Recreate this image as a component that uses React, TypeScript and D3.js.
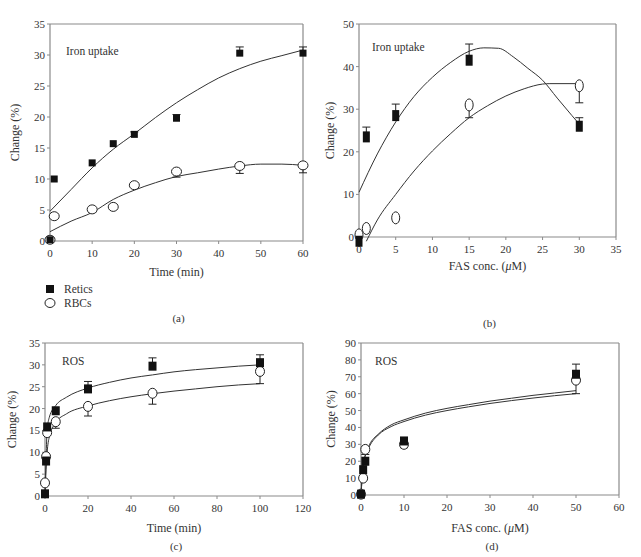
import React from "react";
import * as d3 from "d3";

// ---------- Data ----------
// Panel (a): Iron uptake vs time
const aReticsX = [0, 1, 10, 15, 20, 30, 45, 60];
const aReticsY = [0.2, 10, 12.6, 15.7, 17.2, 19.8, 30.3, 30.3];
const aReticsErr = [null, null, null, null, 17.6, 20.4, 31.3, 31.3];
const aRbcX = [0, 1, 10, 15, 20, 30, 45, 60];
const aRbcY = [0.2, 4, 5.1, 5.5, 9, 11.2, 12.1, 12.2];
const aRbcErr = [null, null, 4.6, null, null, 10.3, 10.9, 11];
const aReticsFitX = [0, 5, 10, 15, 20, 25, 30, 35, 40, 45, 50, 55, 60];
const aReticsFitY = [4.8, 8.3, 11.8, 14.8, 17.3, 19.9, 22.3, 24.4, 26.3, 27.8, 29.0, 29.9, 30.8];
const aRbcFitX = [0, 5, 10, 15, 20, 25, 30, 35, 40, 45, 50, 55, 60];
const aRbcFitY = [1.5, 3.2, 4.6, 6.7, 8.2, 9.4, 10.4, 11.0, 11.6, 12.1, 12.4, 12.4, 12.2];

// Panel (b): Iron uptake vs FAS conc.
const bReticsX = [0, 1, 5, 15, 30];
const bReticsY = [-1, 23.5, 28.5, 41.5, 26];
const bReticsErr = [null, 25.8, 31.2, 45.3, 28];
const bRbcX = [0, 1, 5, 15, 30];
const bRbcY = [0.5, 2, 4.5, 31, 35.5];
const bRbcErr = [null, null, null, 28, 31.5];
const bReticsFitX = [0, 2.5, 5, 7.5, 10, 12.5, 15, 17, 19, 21, 23, 25, 27, 29, 30];
const bReticsFitY = [10.5, 19.5, 27, 33, 37.5, 41, 43.6, 44.4, 44.3, 42.3, 39.6, 36.8, 32.6, 28.5, 26.5];
const bRbcFitX = [1, 2.5, 5, 7.5, 10, 12.5, 15, 17.5, 20, 22.5, 25, 26, 30];
const bRbcFitY = [-1, 4, 10, 15.5, 20.2, 24.3, 28, 30.8, 33.1, 34.8, 35.9, 36, 36];

// Panel (c): ROS vs time
const cReticsX = [0, 0.5, 1, 5, 20, 50, 100];
const cReticsY = [0.5, 8, 15.8, 19.5, 24.5, 29.7, 30.5];
const cReticsErr = [null, null, null, null, 26.2, 31.6, 32.3];
const cRbcX = [0, 0.5, 1, 5, 20, 50, 100];
const cRbcY = [3, 9, 14.5, 17, 20.5, 23.5, 28.5];
const cRbcErr = [null, null, null, 15.5, 18.3, 21, 25.7];
const cReticsFitX = [0, 0.5, 1, 2, 5, 10, 20, 30, 40, 50, 60, 70, 80, 90, 100];
const cReticsFitY = [0, 9, 15, 18, 20.7, 22.6, 24.7, 26.0, 27.0, 27.7, 28.4, 28.9, 29.3, 29.7, 30.0];
const cRbcFitX = [0, 0.5, 1, 2, 5, 10, 20, 30, 40, 50, 60, 70, 80, 90, 100];
const cRbcFitY = [0, 6, 10, 13.5, 16.8, 18.8, 20.6, 21.8, 22.7, 23.4, 24.0, 24.5, 25.0, 25.4, 25.7];

// Panel (d): ROS vs FAS conc.
const dReticsX = [0, 0.5, 1, 10, 50];
const dReticsY = [0.5, 15, 20, 32, 71.5];
const dReticsErr = [null, null, null, null, 77.5];
const dRbcX = [0, 0.5, 1, 10, 50];
const dRbcY = [0.5, 10, 27, 30, 68];
const dRbcErr = [null, null, 24, 28, 60];
const dReticsFitX = [0, 0.5, 1, 2, 4, 7, 10, 15, 20, 25, 30, 35, 40, 45, 50];
const dReticsFitY = [0, 18, 24, 30, 36, 41.5, 44.5, 48.5, 51.3, 53.5, 55.6, 57.3, 59, 60.4, 61.8];
const dRbcFitX = [0, 0.5, 1, 2, 4, 7, 10, 15, 20, 25, 30, 35, 40, 45, 50];
const dRbcFitY = [0, 17, 23, 29, 35.5, 40.5, 43.5, 47.3, 50.0, 52.2, 54.2, 55.9, 57.4, 58.8, 60];

// Tick values
const aXTicks = [0, 10, 20, 30, 40, 50, 60];
const aYTicks = [0, 5, 10, 15, 20, 25, 30, 35];
const bXTicks = [0, 5, 10, 15, 20, 25, 30, 35];
const bYTicks = [0, 10, 20, 30, 40, 50];
const cXTicks = [0, 20, 40, 60, 80, 100, 120];
const cYTicks = [0, 5, 10, 15, 20, 25, 30, 35];
const dXTicks = [0, 10, 20, 30, 40, 50, 60];
const dYTicks = [0, 10, 20, 30, 40, 50, 60, 70, 80, 90];

const legendLabels = ["Retics", "RBCs"];

const FONT = "'Liberation Serif', 'Times New Roman', serif";
const AXIS = "#8a8a8a";

type PanelProps = {
  x0: number; x1: number; y0: number; y1: number;
  xDomain: [number, number]; yDomain: [number, number];
  xTicks: number[]; yTicks: number[];
  xTitle: string; label: string; caption: string;
  labelPos: [number, number];
  yTitleX: number; xTitleY: number; captionY: number;
  retics: { x: number[]; y: number[]; err: (number | null)[] };
  rbc: { x: number[]; y: number[]; err: (number | null)[] };
  reticsFit: { x: number[]; y: number[] };
  rbcFit: { x: number[]; y: number[] };
  sq: [number, number];
  circ: [number, number];
};

function Panel(p: PanelProps) {
  const xs = d3.scaleLinear().domain(p.xDomain).range([p.x0, p.x1]);
  const ys = d3.scaleLinear().domain(p.yDomain).range([p.y1, p.y0]);
  const line = d3
    .line<[number, number]>()
    .x((d) => xs(d[0]))
    .y((d) => ys(d[1]))
    .curve(d3.curveMonotoneX);
  const fitPath = (f: { x: number[]; y: number[] }) =>
    line(f.x.map((v, i) => [v, f.y[i]] as [number, number])) || "";
  const errBars = (s: { x: number[]; y: number[]; err: (number | null)[] }, key: string) =>
    s.x.map((v, i) => {
      const e = s.err[i];
      if (e === null || e === undefined) return null;
      const cx = xs(v);
      return (
        <g key={key + i} stroke="#222" strokeWidth={1}>
          <line x1={cx} x2={cx} y1={ys(s.y[i])} y2={ys(e)} />
          <line x1={cx - 4} x2={cx + 4} y1={ys(e)} y2={ys(e)} />
        </g>
      );
    });
  return (
    <g fontFamily={FONT}>
      {/* frame */}
      <line x1={p.x0} x2={p.x1} y1={p.y0} y2={p.y0} stroke={AXIS} strokeWidth={1.2} />
      <line x1={p.x1} x2={p.x1} y1={p.y0} y2={p.y1} stroke={AXIS} strokeWidth={1.2} />
      <line x1={p.x0} x2={p.x0} y1={p.y0} y2={p.y1} stroke={AXIS} strokeWidth={1.2} />
      <line x1={p.x0} x2={p.x1} y1={p.y1} y2={p.y1} stroke={AXIS} strokeWidth={1.2} />
      {p.xTicks.map((t) => (
        <g key={"xt" + t}>
          <line x1={xs(t)} x2={xs(t)} y1={p.y1} y2={p.y1 + 3} stroke={AXIS} />
          <text x={xs(t)} y={p.y1 + 16} fontSize={11} textAnchor="middle" fill="#333">
            {t}
          </text>
        </g>
      ))}
      {p.yTicks.map((t) => (
        <g key={"yt" + t}>
          <line x1={p.x0 - 3} x2={p.x0} y1={ys(t)} y2={ys(t)} stroke={AXIS} />
          <text x={p.x0 - 5} y={ys(t) + 4} fontSize={11} textAnchor="end" fill="#333">
            {t}
          </text>
        </g>
      ))}
      <text
        transform={`translate(${p.yTitleX},${(p.y0 + p.y1) / 2}) rotate(-90)`}
        fontSize={12}
        textAnchor="middle"
        fill="#333"
      >
        Change (%)
      </text>
      <text x={(p.x0 + p.x1) / 2} y={p.xTitleY} fontSize={12} textAnchor="middle" fill="#333">
        {p.xTitle.includes("μ") ? (
          <>
            FAS conc. (<tspan fontStyle="italic">μ</tspan>M)
          </>
        ) : (
          p.xTitle
        )}
      </text>
      <text x={(p.x0 + p.x1) / 2 + 2} y={p.captionY} fontSize={11} textAnchor="middle" fill="#333">
        {p.caption}
      </text>
      <text x={p.labelPos[0]} y={p.labelPos[1]} fontSize={11.5} fill="#333">
        {p.label}
      </text>
      {/* fits */}
      <path d={fitPath(p.reticsFit)} fill="none" stroke="#333" strokeWidth={1} />
      <path d={fitPath(p.rbcFit)} fill="none" stroke="#333" strokeWidth={1} />
      {errBars(p.rbc, "erb")}
      {errBars(p.retics, "ert")}
      {p.rbc.x.map((v, i) => (
        <ellipse
          key={"c" + i}
          cx={xs(v)}
          cy={ys(p.rbc.y[i])}
          rx={p.circ[0]}
          ry={p.circ[1]}
          fill="#fff"
          stroke="#222"
          strokeWidth={1}
        />
      ))}
      {p.retics.x.map((v, i) => (
        <rect
          key={"s" + i}
          x={xs(v) - p.sq[0] / 2}
          y={ys(p.retics.y[i]) - p.sq[1] / 2}
          width={p.sq[0]}
          height={p.sq[1]}
          fill="#111"
        />
      ))}
    </g>
  );
}

export default function App() {
  return (
    <svg width={641} height={557} style={{ position: "absolute", left: 0, top: 0, background: "#fff" }}>
      <Panel
        x0={50} x1={303} y0={24} y1={241}
        xDomain={[0, 60]} yDomain={[0, 35]}
        xTicks={aXTicks} yTicks={aYTicks}
        xTitle="Time (min)" label="Iron uptake" caption="(a)"
        labelPos={[66, 55]} yTitleX={19} xTitleY={276} captionY={322}
        retics={{ x: aReticsX, y: aReticsY, err: aReticsErr }}
        rbc={{ x: aRbcX, y: aRbcY, err: aRbcErr }}
        reticsFit={{ x: aReticsFitX, y: aReticsFitY }}
        rbcFit={{ x: aRbcFitX, y: aRbcFitY }}
        sq={[7, 7]} circ={[5, 4.5]}
      />
      <Panel
        x0={359} x1={616} y0={24} y1={237}
        xDomain={[0, 35]} yDomain={[0, 50]}
        xTicks={bXTicks} yTicks={bYTicks}
        xTitle="FAS conc. (μM)" label="Iron uptake" caption="(b)"
        labelPos={[372, 51]} yTitleX={334} xTitleY={270} captionY={327}
        retics={{ x: bReticsX, y: bReticsY, err: bReticsErr }}
        rbc={{ x: bRbcX, y: bRbcY, err: bRbcErr }}
        reticsFit={{ x: bReticsFitX, y: bReticsFitY }}
        rbcFit={{ x: bRbcFitX, y: bRbcFitY }}
        sq={[7, 11]} circ={[4, 6]}
      />
      <Panel
        x0={45} x1={303} y0={343} y1={496}
        xDomain={[0, 120]} yDomain={[0, 35]}
        xTicks={cXTicks} yTicks={cYTicks}
        xTitle="Time (min)" label="ROS" caption="(c)"
        labelPos={[62, 365]} yTitleX={16} xTitleY={532} captionY={550}
        retics={{ x: cReticsX, y: cReticsY, err: cReticsErr }}
        rbc={{ x: cRbcX, y: cRbcY, err: cRbcErr }}
        reticsFit={{ x: cReticsFitX, y: cReticsFitY }}
        rbcFit={{ x: cRbcFitX, y: cRbcFitY }}
        sq={[8, 9]} circ={[4.5, 5]}
      />
      <Panel
        x0={361} x1={619} y0={343} y1={495}
        xDomain={[0, 60]} yDomain={[0, 90]}
        xTicks={dXTicks} yTicks={dYTicks}
        xTitle="FAS conc. (μM)" label="ROS" caption="(d)"
        labelPos={[375, 365]} yTitleX={335} xTitleY={532} captionY={550}
        retics={{ x: dReticsX, y: dReticsY, err: dReticsErr }}
        rbc={{ x: dRbcX, y: dRbcY, err: dRbcErr }}
        reticsFit={{ x: dReticsFitX, y: dReticsFitY }}
        rbcFit={{ x: dRbcFitX, y: dRbcFitY }}
        sq={[8, 9]} circ={[4.5, 5]}
      />
      {/* legend */}
      <g fontFamily={FONT} fontSize={11.5} fill="#333">
        <rect x={46} y={285} width={8} height={8} fill="#111" />
        <text x={64} y={293}>{legendLabels[0]}</text>
        <ellipse cx={50} cy={303} rx={5} ry={4.5} fill="#fff" stroke="#222" />
        <text x={64} y={307}>{legendLabels[1]}</text>
      </g>
    </svg>
  );
}
